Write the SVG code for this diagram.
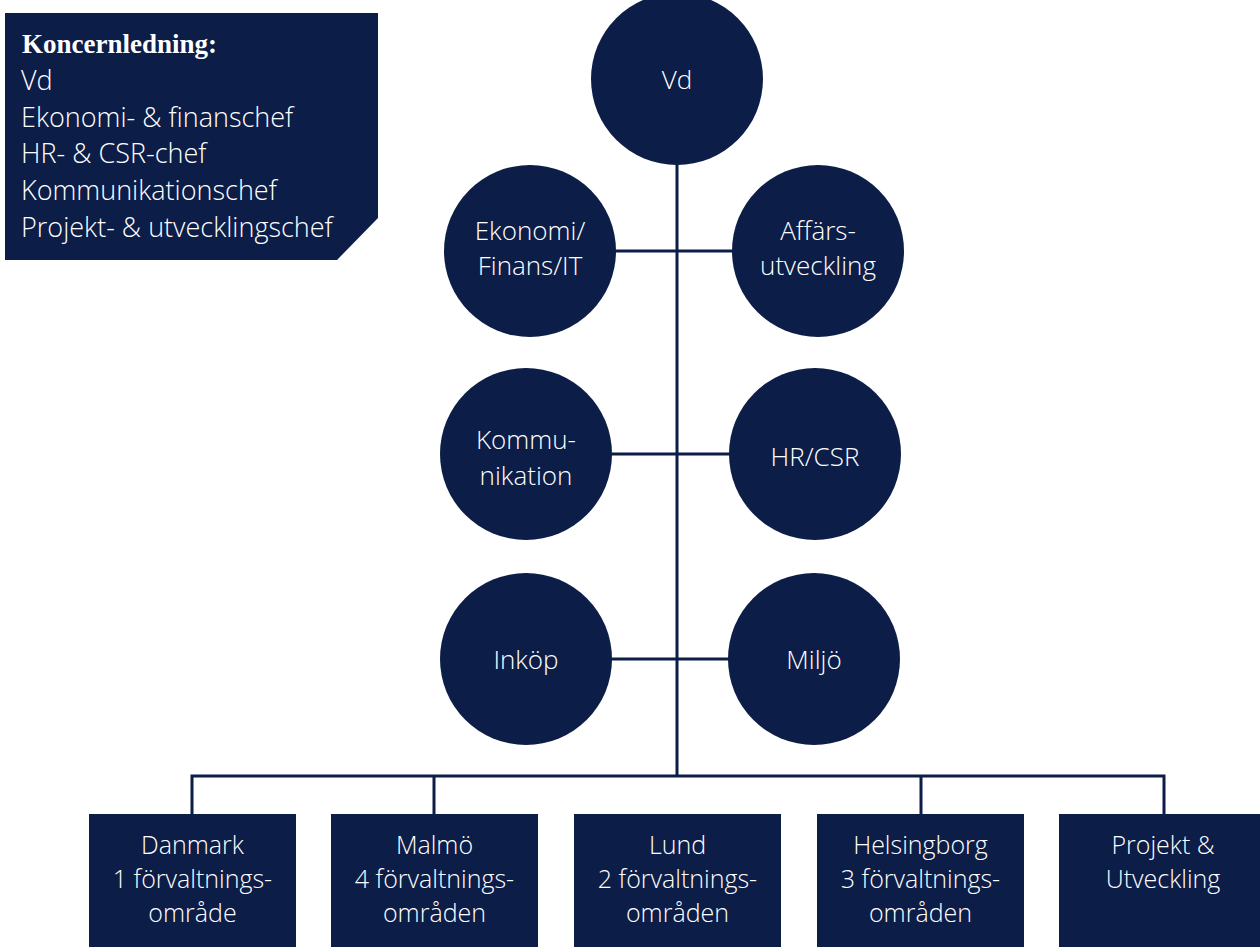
<svg xmlns="http://www.w3.org/2000/svg" width="1260" height="947" viewBox="0 0 1260 947">
<style>
.n{fill:#0c1d47}
.t{fill:#ffffff;font-family:"Open Sans","Liberation Sans",sans-serif;font-weight:300;font-size:26px;text-anchor:middle}
.b{fill:#ffffff;font-family:"Open Sans","Liberation Sans",sans-serif;font-weight:300;font-size:25px;text-anchor:middle}
.l{fill:#ffffff;font-family:"Open Sans","Liberation Sans",sans-serif;font-weight:300;font-size:27px}
.h{fill:#ffffff;font-family:"Liberation Serif",serif;font-weight:bold;font-size:27px}
.c{stroke:#0c1d47;stroke-width:3;fill:none}
</style>
<rect width="1260" height="947" fill="#ffffff"/>
<g id="connectors">
<line class="c" x1="677" y1="150" x2="677" y2="777"/>
<line class="c" x1="600" y1="251" x2="750" y2="251"/>
<line class="c" x1="600" y1="454" x2="745" y2="454"/>
<line class="c" x1="600" y1="659" x2="745" y2="659"/>
<polyline class="c" points="192,816 192,776 1164,776 1164,816"/>
<line class="c" x1="434" y1="776" x2="434" y2="816"/>
<line class="c" x1="921" y1="776" x2="921" y2="816"/>
</g>
<g id="koncernledning">
<polygon class="n" points="5,13 378,13 378,218 337,260 5,260"/>
<text class="h" x="22" y="53">Koncernledning:</text>
<text class="l" x="21" y="90">Vd</text>
<text class="l" x="21" y="127">Ekonomi- &amp; finanschef</text>
<text class="l" x="21" y="163">HR- &amp; CSR-chef</text>
<text class="l" x="21" y="200">Kommunikationschef</text>
<text class="l" x="21" y="237">Projekt- &amp; utvecklingschef</text>
</g>
<g id="vd">
<circle class="n" cx="677" cy="79" r="86"/>
<text class="t" x="677" y="89">Vd</text>
</g>
<g id="ekonomi">
<circle class="n" cx="530" cy="251" r="86"/>
<text class="t" x="530" y="240">Ekonomi/</text>
<text class="t" x="530" y="275">Finans/IT</text>
</g>
<g id="affarsutveckling">
<circle class="n" cx="818" cy="251" r="86"/>
<text class="t" x="818" y="240">Affärs-</text>
<text class="t" x="818" y="275">utveckling</text>
</g>
<g id="kommunikation">
<circle class="n" cx="526" cy="454" r="86"/>
<text class="t" x="526" y="449">Kommu-</text>
<text class="t" x="526" y="485">nikation</text>
</g>
<g id="hrcsr">
<circle class="n" cx="815" cy="454" r="86"/>
<text class="t" x="815" y="466">HR/CSR</text>
</g>
<g id="inkop">
<circle class="n" cx="526" cy="659" r="86"/>
<text class="t" x="526" y="669">Inköp</text>
</g>
<g id="miljo">
<circle class="n" cx="814" cy="659" r="86"/>
<text class="t" x="814" y="669">Miljö</text>
</g>
<g id="danmark">
<rect class="n" x="89" y="814" width="207" height="133"/>
<text class="b" x="192.5" y="854">Danmark</text>
<text class="b" x="192.5" y="888">1 förvaltnings-</text>
<text class="b" x="192.5" y="922">område</text>
</g>
<g id="malmo">
<rect class="n" x="331" y="814" width="207" height="133"/>
<text class="b" x="434.5" y="854">Malmö</text>
<text class="b" x="434.5" y="888">4 förvaltnings-</text>
<text class="b" x="434.5" y="922">områden</text>
</g>
<g id="lund">
<rect class="n" x="574" y="814" width="207" height="133"/>
<text class="b" x="677.5" y="854">Lund</text>
<text class="b" x="677.5" y="888">2 förvaltnings-</text>
<text class="b" x="677.5" y="922">områden</text>
</g>
<g id="helsingborg">
<rect class="n" x="817" y="814" width="207" height="133"/>
<text class="b" x="920.5" y="854">Helsingborg</text>
<text class="b" x="920.5" y="888">3 förvaltnings-</text>
<text class="b" x="920.5" y="922">områden</text>
</g>
<g id="projekt">
<rect class="n" x="1059" y="814" width="207" height="133"/>
<text class="b" x="1163" y="854">Projekt &amp;</text>
<text class="b" x="1163" y="888">Utveckling</text>
</g>
</svg>
